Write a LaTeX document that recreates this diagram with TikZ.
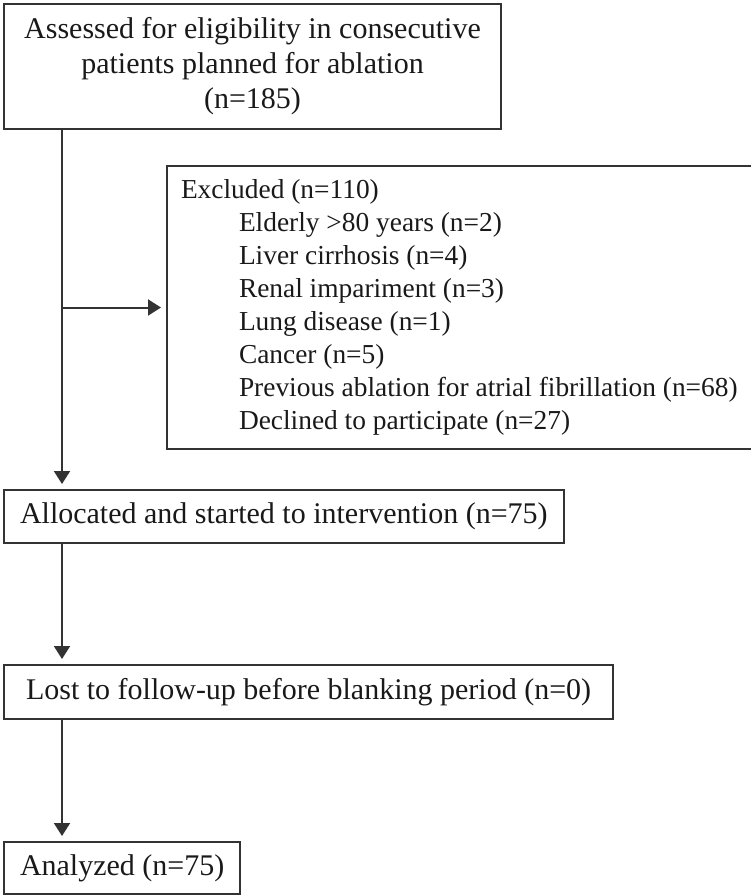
\documentclass[tikz,border=0pt]{standalone}
\usepackage{fontspec}
\setmainfont{Liberation Serif}
\usetikzlibrary{arrows.meta, positioning}
\usepackage{xcolor}

\begin{document}
\begin{tikzpicture}[
    x=0.5pt, y=-0.5pt,
    font=\fontsize{15}{17.5}\selectfont,
    box/.style={draw=black!80, line width=1pt, rectangle, anchor=north west, inner xsep=8pt, inner ysep=0pt, minimum height=26.5pt, text=black!90},
    listbox/.style={box, align=left, inner xsep=7pt, font=\fontsize{13.7}{16.45}\selectfont},
    arrow/.style={-{Triangle[length=6.5pt, width=8pt]}, line width=1pt, draw=black!80, shorten >=2.5pt}
]
\useasboundingbox (0,0) rectangle (751,896);

% Caixas
\node[box, align=center, minimum width=248.5pt, minimum height=62.5pt] (assess) at (3,3)
    {Assessed for eligibility in consecutive\\ patients planned for ablation\\ (n=185)};
\node[listbox, minimum width=291.5pt, minimum height=141.5pt] (excl) at (166,165)
    {Excluded (n=110)\\
     \hspace*{29pt}Elderly >80 years (n=2)\\
     \hspace*{29pt}Liver cirrhosis (n=4)\\
     \hspace*{29pt}Renal impariment (n=3)\\
     \hspace*{29pt}Lung disease (n=1)\\
     \hspace*{29pt}Cancer (n=5)\\
     \hspace*{29pt}Previous ablation for atrial fibrillation (n=68)\\
     \hspace*{29pt}Declined to participate (n=27)};
\node[box] (alloc) at (3,489) {Allocated and started to intervention (n=75)};
\node[box, minimum height=27pt, inner xsep=11pt] (lost) at (3,664) {Lost to follow-up before blanking period (n=0)};
\node[box, minimum height=26pt] (analyzed) at (3,841) {Analyzed (n=75)};

% Setas
\coordinate (trunk) at (62,0);
\draw[arrow] (assess.south -| trunk) -- (alloc.north -| trunk);
\draw[arrow] (excl.west -| trunk) -- (excl.west);
\draw[arrow] (alloc.south -| trunk) -- (lost.north -| trunk);
\draw[arrow] (lost.south -| trunk) -- (analyzed.north -| trunk);

\end{tikzpicture}
\end{document}
